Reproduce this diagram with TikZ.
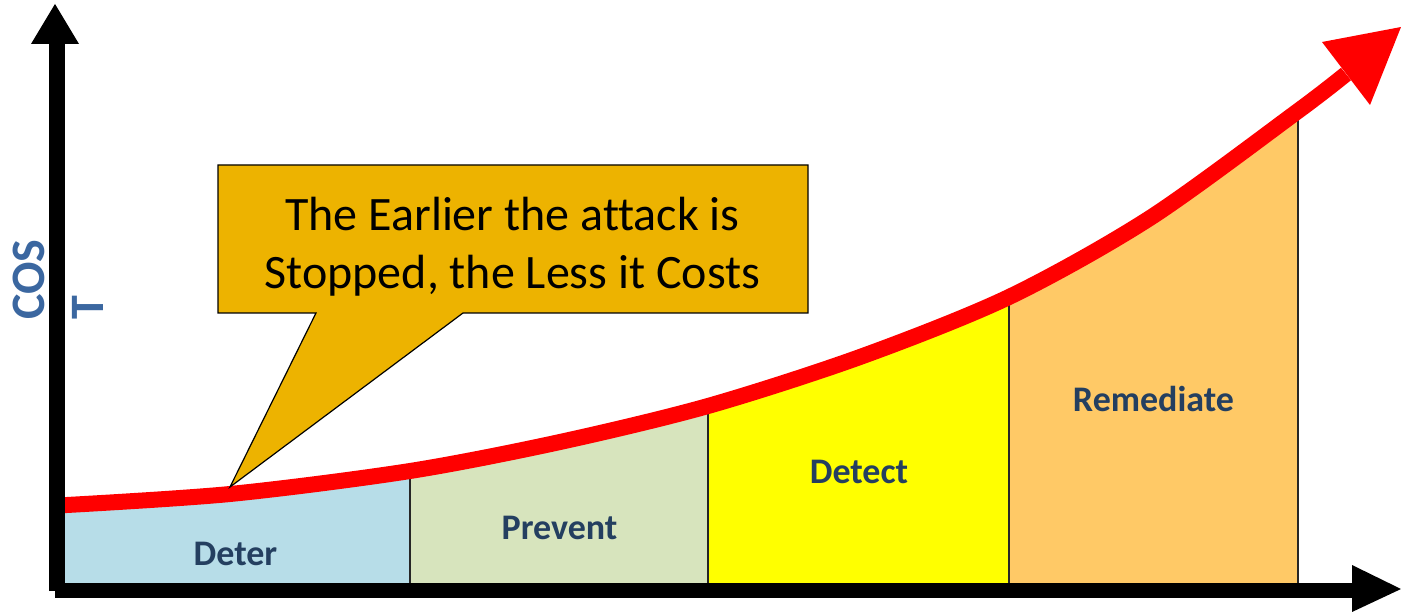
\documentclass[tikz,border=0pt]{standalone}
\usepackage{fontspec}
\setmainfont{Carlito}[Ligatures={NoCommon}]
\definecolor{deterfill}{HTML}{B7DDE8}
\definecolor{preventfill}{HTML}{D7E4BD}
\definecolor{detectfill}{HTML}{FFFF00}
\definecolor{remfill}{HTML}{FFC966}
\definecolor{calloutfill}{HTML}{EDB300}
\definecolor{labelblue}{HTML}{243F60}
\definecolor{costblue}{HTML}{3B67A0}
\definecolor{curvered}{HTML}{FF0000}
\begin{document}
\begin{tikzpicture}[x=1pt,y=-1pt,
  divider/.style={draw=black!85, line width=1.5pt},
  lbl/.style={font=\fontsize{36}{40}\selectfont\bfseries, text=labelblue, inner sep=0pt, anchor=base},
  axisline/.style={draw=black},
  redcurve/.style={draw=curvered, line width=16pt},
]
\useasboundingbox (0,0) rectangle (1401,612);

% regions under the curve
\begin{scope}
\clip plot[smooth] coordinates {(58,505.5) (230,494) (410,471) (560,442) (708,406) (860,357) (1009,297) (1150,218) (1298,111) (1346,74)} -- (1346,583) -- (58,583) -- cycle;
\fill[deterfill] (57,0) rectangle (410,583);
\fill[preventfill] (410,0) rectangle (708,583);
\fill[detectfill] (708,0) rectangle (1009,583);
\fill[remfill] (1009,0) rectangle (1298,583);
\end{scope}
\draw[divider] (410,583) -- (410,471);
\draw[divider] (708,583) -- (708,406);
\draw[divider] (1009,583) -- (1009,297);
\draw[divider] (1298,583) -- (1298,111);

% red cost curve
\draw[redcurve] plot[smooth] coordinates {(58,505.5) (230,494) (410,471) (560,442) (708,406) (860,357) (1009,297) (1150,218) (1298,111) (1346,74)};
\fill[curvered] (1322,42) -- (1401,27) -- (1370,105) -- cycle;

% axes
\draw[axisline, line width=16pt] (57,591) -- (57,40);
\fill[black] (31,44) -- (55,4) -- (79,44) -- cycle;
\draw[axisline, line width=15pt] (55,590.5) -- (1354,590.5);
\fill[black] (1352,565) -- (1401,589) -- (1352,612) -- cycle;

% axis label
\node[font=\fontsize{48}{59}\selectfont\bfseries, text=costblue, align=left, inner sep=0pt, rotate=90, anchor=north west] (cost) at (13,320) {COS\\T};

% callout
\filldraw[fill=calloutfill, draw=black, line width=1.2pt] (218,165) -- (808,165) -- (808,313) -- (463,313) -- (230,487) -- (316,313) -- (218,313) -- cycle;
\node[font=\fontsize{48}{58}\selectfont, align=center, inner sep=0pt] (callout) at (512.5,247) {The Earlier the attack is\\Stopped, the Less it Costs};

% region labels
\node[lbl] (deter) at (235.5,565) {Deter};
\node[lbl] (prevent) at (559.5,539) {Prevent};
\node[lbl] (detect) at (859,483) {Detect};
\node[lbl] (remediate) at (1153.5,411) {Remediate};
\end{tikzpicture}
\end{document}
